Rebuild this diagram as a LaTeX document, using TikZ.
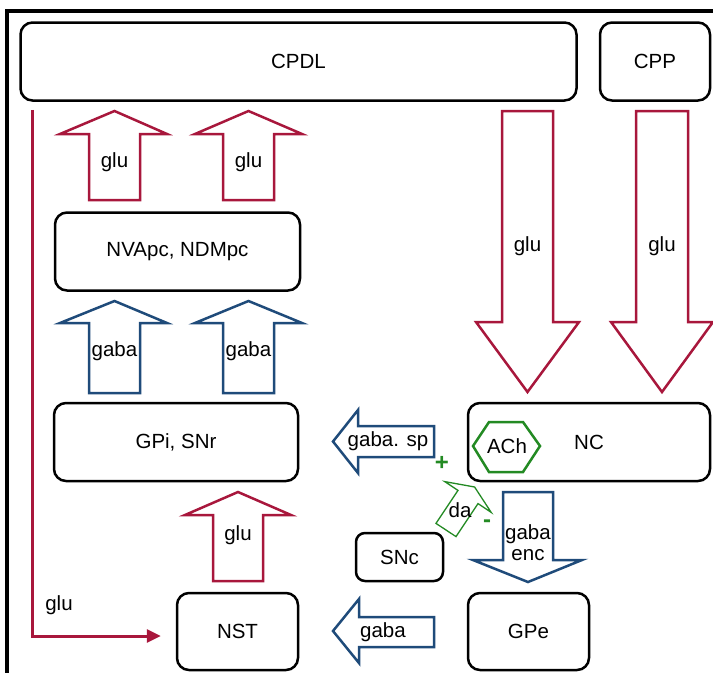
\documentclass[tikz,border=0pt]{standalone}
\usepackage{fontspec}
\setmainfont{Liberation Sans}
\usepackage{tikz}
\usetikzlibrary{arrows.meta, positioning, calc}
\definecolor{mRed}{HTML}{A8173C}
\definecolor{mBlue}{HTML}{1F4B7A}
\definecolor{mGreen}{HTML}{238A23}
\begin{document}
\begin{tikzpicture}[
    x=1pt, y=-1pt,
    font=\fontsize{20.5}{24}\selectfont,
    box/.style={rectangle, draw=black, line width=2.5pt, rounded corners=12pt, text centered, minimum width=120pt, minimum height=78pt},
    gluarrow/.style={draw=mRed, line width=2.5pt, line join=miter},
    gabaarrow/.style={draw=mBlue, line width=2.5pt, line join=miter},
    daarrow/.style={draw=mGreen, line width=1.3pt, line join=miter},
    gluline/.style={draw=mRed, line width=3pt, -{Triangle[length=14pt, width=13pt]}},
    sign/.style={text=mGreen, font=\fontsize{24}{24}\bfseries\selectfont},
    lbl/.style={inner sep=0pt}
]
    \useasboundingbox (0,0) rectangle (713,673);
    % frame
    \draw[line width=4pt] (713,11.3) -- (7.2,11.3) -- (7.2,673);

    % boxes
    \node[box, minimum width=556pt] (cpdl) at (298.5,61.5) {CPDL};
    \node[box, minimum width=110pt] (cpp) at (655,61.5) {CPP};
    \node[box, minimum width=245pt] (nva) at (177.5,251.5) {NVApc, NDMpc};
    \node[box, minimum width=244pt] (gpi) at (176,442) {GPi, SNr};
    \node[box, minimum width=242pt] (nc) at (589,442) {NC};
    \node[box, minimum width=87pt, minimum height=48pt, rounded corners=9pt] (snc) at (399.5,557) {SNc};
    \node[box, minimum width=121pt, minimum height=77pt] (nst) at (237.5,631.5) {NST};
    \node[box, minimum width=121pt, minimum height=77pt] (gpe) at (528.5,631.5) {GPe};

    % ACh inside NC
    \node[lbl] (ach) at (507,446) {ACh};
    \draw[mGreen, line width=2.5pt] ($(ach)+(-34,0)$) -- ($(ach)+(-18,-24)$) -- ($(ach)+(16,-24)$)
        -- ($(ach)+(33,0)$) -- ($(ach)+(16,26)$) -- ($(ach)+(-18,26)$) -- cycle;

    % glu from CPDL
    \draw[gluarrow] (89,200) -- (89,134) -- (60,134) -- (114.5,111) -- (167,134) -- (140,134) -- (140,200) -- cycle;
    \node[lbl] (glua) at (114.5,162) {glu};
    \draw[gluarrow] (223,200) -- (223,134) -- (195,134) -- (248.5,111) -- (302,134) -- (274,134) -- (274,200) -- cycle;
    \node[lbl] (glub) at (248.5,162) {glu};

    % gaba to NVApc
    \draw[gabaarrow] (89,393) -- (89,323) -- (60,323) -- (114.5,301) -- (167,323) -- (140,323) -- (140,393) -- cycle;
    \node[lbl] (gabaa) at (114.5,351) {gaba};
    \draw[gabaarrow] (223,393) -- (223,323) -- (195,323) -- (248.5,301) -- (302,323) -- (274,323) -- (274,393) -- cycle;
    \node[lbl] (gabab) at (248.5,351) {gaba};

    % glu to NC
    \draw[gluarrow] (502,111) -- (502,322) -- (476,322) -- (527.5,392) -- (579,322) -- (553,322) -- (553,111) -- cycle;
    \node[lbl] (gluc) at (527.5,246) {glu};
    \draw[gluarrow] (636,111) -- (636,322) -- (611,322) -- (662,392) -- (713,322) -- (688,322) -- (688,111) -- cycle;
    \node[lbl] (glud) at (662,246) {glu};

    % NC to GPi
    \draw[gabaarrow] (434,426) -- (358,426) -- (358,410) -- (333,441.5) -- (358,473) -- (358,457) -- (434,457) -- cycle;
    \node[lbl] (gabasp) at (388,441) {gaba. sp};
    \node[sign] (plus) at (442,463) {+};

    % NST to GPi
    \draw[gluarrow] (213,581) -- (213,515) -- (185,515) -- (238,492) -- (291,515) -- (263,515) -- (263,581) -- cycle;
    \node[lbl] (glue) at (238,535) {glu};

    % SNc to NC
    \draw[daarrow] (436,523.4) -- (458,490.4) -- (444.8,481.6) -- (474.6,487) -- (491.2,512.4) -- (478,503.6) -- (456,536.6) -- cycle;
    \node[lbl] (da) at (460,510) {da};
    \node[sign] (minus) at (487,524) {-};

    % NC to GPe
    \draw[gabaarrow] (503,492) -- (503,560) -- (473,560) -- (528,582) -- (582,560) -- (553,560) -- (553,492) -- cycle;
    \node[lbl, align=center, font=\fontsize{20.5}{21}\selectfont] (gabaenc) at (528,543) {gaba\\enc};

    % GPe to NST
    \draw[gabaarrow] (434,617) -- (359,617) -- (359,599) -- (333,631) -- (359,663) -- (359,647) -- (434,647) -- cycle;
    \node[lbl] (gabaf) at (383,632) {gaba};

    % CPDL to NST
    \draw[gluline] ([xshift=13pt, yshift=-8pt]cpdl.south west) |- ([xshift=-15pt, yshift=-4.5pt]nst.west);
    \node[lbl] (gluf) at (59,605) {glu};
\end{tikzpicture}
\end{document}
